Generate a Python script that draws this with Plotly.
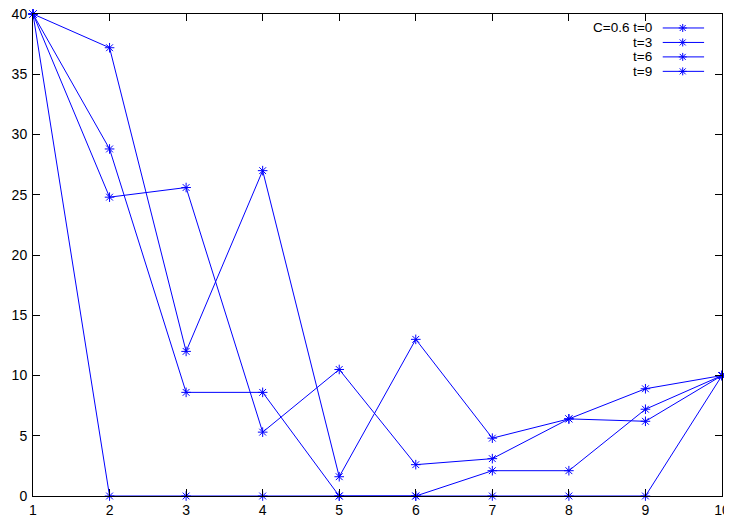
import plotly.graph_objects as go

x_vals = [1, 2, 3, 4, 5, 6, 7, 8, 9, 10]
labels = ["C=0.6 t=0", "t=3", "t=6", "t=9"]
series_t0 = [40, 0, 0, 0, 0, 0, 0, 0, 0, 10]
series_t3 = [40, 37.2, 12.0, 27.0, 1.6, 13.0, 4.8, 6.4, 8.9, 10]
series_t6 = [40, 28.8, 8.6, 8.6, 0, 0, 2.1, 2.1, 7.2, 10]
series_t9 = [40, 24.8, 25.6, 5.3, 10.5, 2.6, 3.1, 6.4, 6.2, 10]
all_series = [series_t0, series_t3, series_t6, series_t9]

x_ticks = list(range(1, 11))
y_ticks = list(range(0, 41, 5))

BLUE = "#0000ff"
FONT = "Liberation Sans, Arial, sans-serif"

# page has an 8px body margin, so the figure is sized/offset to compensate
FIG_W, FIG_H = 732, 518
ML, MR, MT, MB = 25, 18, 6, 30
PW, PH = FIG_W - ML - MR, FIG_H - MT - MB

fig = go.Figure()
for s in all_series:
    fig.add_trace(go.Scatter(
        x=x_vals, y=s, mode="lines+markers",
        line=dict(color=BLUE, width=1),
        marker=dict(symbol="asterisk-open", size=8, color=BLUE,
                    line=dict(color=BLUE, width=1)),
        cliponaxis=False, showlegend=False))

# gnuplot-style legend (text on the left, sample on the right)
leg_x0, leg_xm, leg_x1, leg_text_x = 0.914, 0.943, 0.974, 0.900
leg_rows = [0.971, 0.941, 0.911, 0.881]
ax_, ay_ = 4.0 / PW, 4.0 / PH
dx_, dy_ = 3.0 / PW, 3.0 / PH
for lab, yr in zip(labels, leg_rows):
    fig.add_shape(type="line", xref="paper", yref="paper",
                  x0=leg_x0, x1=leg_x1, y0=yr, y1=yr,
                  line=dict(color=BLUE, width=1))
    for (a, b, c, d) in [(-ax_, 0, ax_, 0), (0, -ay_, 0, ay_),
                         (-dx_, -dy_, dx_, dy_), (-dx_, dy_, dx_, -dy_)]:
        fig.add_shape(type="line", xref="paper", yref="paper",
                      x0=leg_xm + a, y0=yr + b, x1=leg_xm + c, y1=yr + d,
                      line=dict(color=BLUE, width=1))
    fig.add_annotation(x=leg_text_x, y=yr, xref="paper", yref="paper",
                       text=lab, showarrow=False, xanchor="right",
                       yanchor="middle", borderpad=0,
                       font=dict(size=13.5, color="black", family=FONT))

axis_common = dict(showgrid=False, zeroline=False, showline=True,
                   linecolor="black", linewidth=1, mirror="ticks",
                   ticks="inside", ticklen=7, tickcolor="black", tickwidth=1,
                   automargin=False, ticklabeloverflow="allow",
                   tickfont=dict(size=14, color="black", family=FONT))

fig.update_layout(
    width=FIG_W, height=FIG_H,
    margin=dict(l=ML, r=MR, t=MT, b=MB, autoexpand=False),
    paper_bgcolor="white", plot_bgcolor="white",
    font=dict(family=FONT, size=14, color="black"),
    xaxis=dict(range=[1, 10], tickvals=x_ticks, ticklabelstandoff=1, **axis_common),
    yaxis=dict(range=[0, 40], tickvals=y_ticks, ticklabelstandoff=2, **axis_common),
)

fig.write_html("out.html")
